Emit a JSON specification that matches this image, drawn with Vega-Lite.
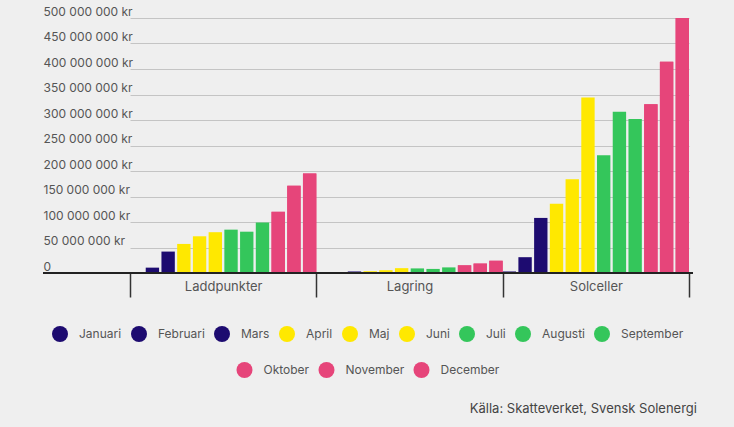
{
  "$schema": "https://vega.github.io/schema/vega-lite/v6.json",
  "width": 650,
  "height": 255,
  "autosize": {"type": "none"},
  "padding": {"left": 43, "top": 18, "right": 41, "bottom": 154},
  "background": "#efefef",
  "config": {
    "font": "Inter",
    "view": {"stroke": null},
    "legend": {
      "layout": {"bottom": {"anchor": "middle", "direction": "vertical", "center": true, "margin": 20}}
    }
  },
  "title": {
    "text": "Källa: Skatteverket, Svensk Solenergi",
    "orient": "bottom",
    "anchor": "end",
    "frame": "group",
    "fontSize": 13,
    "fontWeight": "normal",
    "color": "#444",
    "offset": 25,
    "dx": 4
  },
  "data": {
    "values": [
      {"category": "Laddpunkter", "month": "Januari", "value": 0},
      {"category": "Laddpunkter", "month": "Februari", "value": 10500000},
      {"category": "Laddpunkter", "month": "Mars", "value": 42000000},
      {"category": "Laddpunkter", "month": "April", "value": 57000000},
      {"category": "Laddpunkter", "month": "Maj", "value": 72000000},
      {"category": "Laddpunkter", "month": "Juni", "value": 80000000},
      {"category": "Laddpunkter", "month": "Juli", "value": 85000000},
      {"category": "Laddpunkter", "month": "Augusti", "value": 81000000},
      {"category": "Laddpunkter", "month": "September", "value": 99000000},
      {"category": "Laddpunkter", "month": "Oktober", "value": 120000000},
      {"category": "Laddpunkter", "month": "November", "value": 171000000},
      {"category": "Laddpunkter", "month": "December", "value": 195000000},
      {"category": "Lagring", "month": "Januari", "value": 0},
      {"category": "Lagring", "month": "Februari", "value": 300000},
      {"category": "Lagring", "month": "Mars", "value": 3000000},
      {"category": "Lagring", "month": "April", "value": 3500000},
      {"category": "Lagring", "month": "Maj", "value": 5500000},
      {"category": "Lagring", "month": "Juni", "value": 9500000},
      {"category": "Lagring", "month": "Juli", "value": 9000000},
      {"category": "Lagring", "month": "Augusti", "value": 8000000},
      {"category": "Lagring", "month": "September", "value": 11000000},
      {"category": "Lagring", "month": "Oktober", "value": 15000000},
      {"category": "Lagring", "month": "November", "value": 18500000},
      {"category": "Lagring", "month": "December", "value": 24000000},
      {"category": "Solceller", "month": "Januari", "value": 3000000},
      {"category": "Solceller", "month": "Februari", "value": 31000000},
      {"category": "Solceller", "month": "Mars", "value": 108000000},
      {"category": "Solceller", "month": "April", "value": 136000000},
      {"category": "Solceller", "month": "Maj", "value": 184000000},
      {"category": "Solceller", "month": "Juni", "value": 344000000},
      {"category": "Solceller", "month": "Juli", "value": 231000000},
      {"category": "Solceller", "month": "Augusti", "value": 316000000},
      {"category": "Solceller", "month": "September", "value": 302000000},
      {"category": "Solceller", "month": "Oktober", "value": 331000000},
      {"category": "Solceller", "month": "November", "value": 414000000},
      {"category": "Solceller", "month": "December", "value": 500000000}
    ]
  },
  "encoding": {
    "x": {
      "field": "category",
      "type": "nominal",
      "sort": ["Laddpunkter", "Lagring", "Solceller"],
      "scale": {"range": [87, 646], "paddingInner": 0, "paddingOuter": 0},
      "axis": {
        "title": null,
        "domain": false,
        "grid": false,
        "tickBand": "extent",
        "tickSize": 24,
        "tickColor": "#333",
        "tickWidth": 1.5,
        "labelAngle": 0,
        "labelPadding": -17,
        "labelFontSize": 13,
        "labelColor": "#555"
      }
    },
    "y": {
      "field": "value",
      "type": "quantitative",
      "scale": {"domain": [0, 500000000], "nice": false},
      "axis": {
        "title": null,
        "values": [0, 50000000, 100000000, 150000000, 200000000, 250000000, 300000000, 350000000, 400000000, 450000000, 500000000],
        "domain": false,
        "ticks": false,
        "labelAlign": "left",
        "labelBaseline": "bottom",
        "labelPadding": 0,
        "labelFontSize": 12,
        "labelColor": "#555",
        "gridColor": "#c4c4c4",
        "gridWidth": 1,
        "labelExpr": "datum.value == 0 ? '0' : replace(format(datum.value, ',.0f'), regexp(',', 'g'), ' ') + ' kr'"
      }
    }
  },
  "layer": [
    {
      "mark": {"type": "bar"},
      "encoding": {
        "xOffset": {
          "field": "month",
          "type": "nominal",
          "sort": ["Januari", "Februari", "Mars", "April", "Maj", "Juni", "Juli", "Augusti", "September", "Oktober", "November", "December"],
          "scale": {"paddingInner": 0.15, "paddingOuter": 0}
        },
        "color": {
          "field": "month",
          "type": "nominal",
          "scale": {
            "domain": ["Januari", "Februari", "Mars", "April", "Maj", "Juni", "Juli", "Augusti", "September", "Oktober", "November", "December"],
            "range": ["#1d0b70", "#1d0b70", "#1d0b70", "#ffe800", "#ffe800", "#ffe800", "#34c65b", "#34c65b", "#34c65b", "#e6457a", "#e6457a", "#e6457a"]
          },
          "legend": {
            "values": ["Januari", "Februari", "Mars", "April", "Maj", "Juni", "Juli", "Augusti", "September"],
            "title": null,
            "orient": "bottom",
            "direction": "horizontal",
            "offset": 28,
            "padding": 0,
            "symbolType": "circle",
            "symbolSize": 256,
            "symbolStrokeWidth": 0,
            "symbolOpacity": 1,
            "labelFontSize": 12,
            "labelColor": "#555",
            "labelOffset": 11,
            "columnPadding": 9
          }
        }
      }
    },
    {
      "transform": [{"filter": {"field": "month", "oneOf": ["Oktober", "November", "December"]}}],
      "mark": {"type": "bar"},
      "encoding": {
        "xOffset": {
          "field": "month",
          "type": "nominal",
          "sort": ["Januari", "Februari", "Mars", "April", "Maj", "Juni", "Juli", "Augusti", "September", "Oktober", "November", "December"]
        },
        "color": {
          "field": "month",
          "type": "nominal",
          "scale": {
            "domain": ["Oktober", "November", "December"],
            "range": ["#e6457a", "#e6457a", "#e6457a"]
          },
          "legend": {
            "title": null,
            "orient": "bottom",
            "direction": "horizontal",
            "offset": 28,
            "padding": 0,
            "symbolType": "circle",
            "symbolSize": 256,
            "symbolStrokeWidth": 0,
            "symbolOpacity": 1,
            "labelFontSize": 12,
            "labelColor": "#555",
            "labelOffset": 11,
            "columnPadding": 9
          }
        }
      }
    },
    {
      "mark": {"type": "rule", "color": "#222", "strokeWidth": 2},
      "encoding": {"y": {"datum": 0}, "x": null}
    }
  ],
  "resolve": {"scale": {"color": "independent"}}
}
